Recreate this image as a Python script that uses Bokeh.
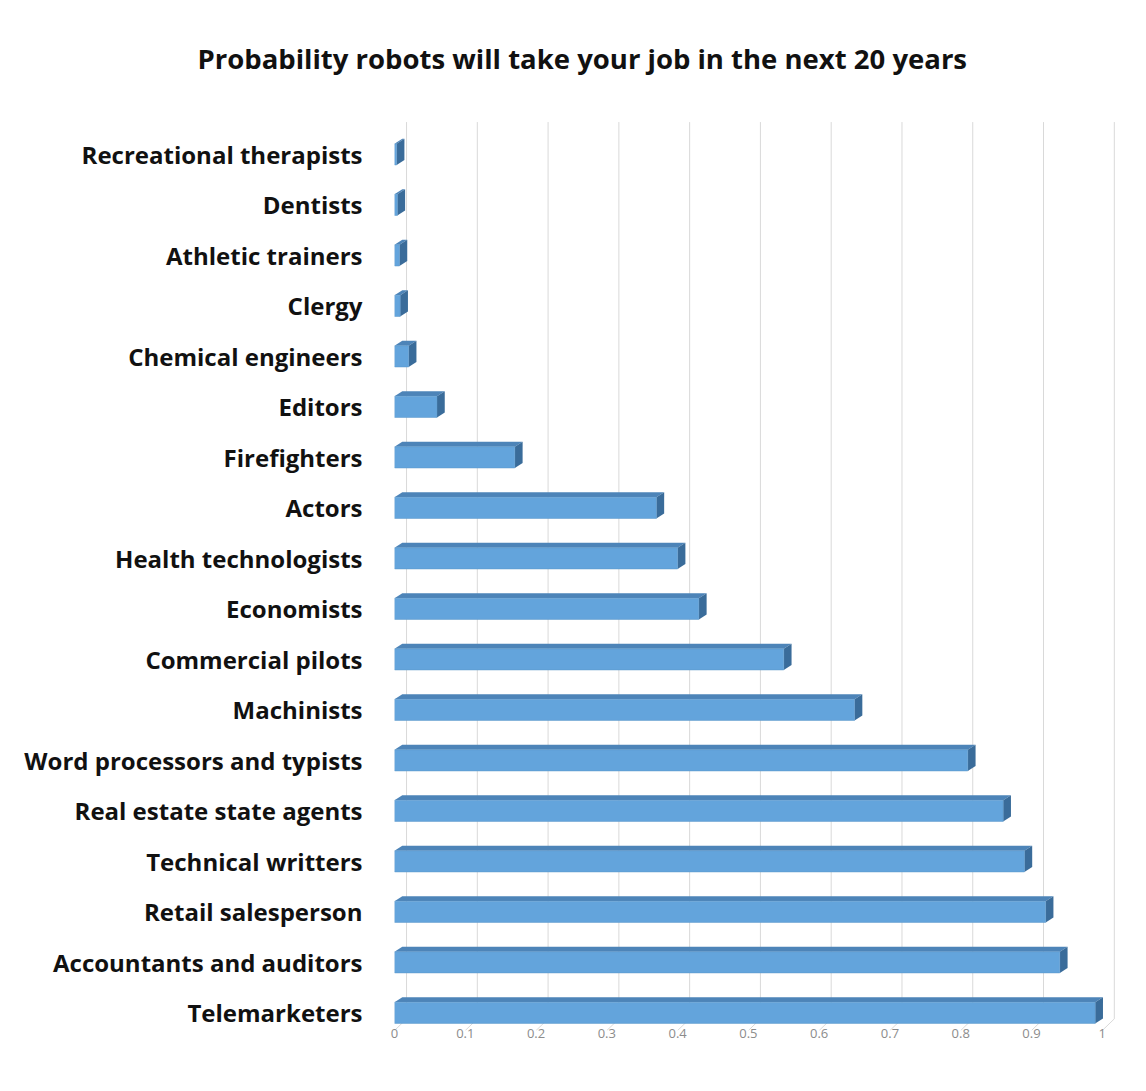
from bokeh.plotting import figure
from bokeh.models import FixedTicker, ColumnDataSource
from bokeh.embed import file_html
from bokeh.resources import INLINE

title_text = "Probability robots will take your job in the next 20 years"

# categories, top to bottom as shown
jobs = [
    "Recreational therapists", "Dentists", "Athletic trainers", "Clergy",
    "Chemical engineers", "Editors", "Firefighters", "Actors",
    "Health technologists", "Economists", "Commercial pilots", "Machinists",
    "Word processors and typists", "Real estate state agents",
    "Technical writters", "Retail salesperson", "Accountants and auditors",
    "Telemarketers",
]
probability = [0.003, 0.004, 0.007, 0.008, 0.02, 0.06, 0.17, 0.37, 0.40,
               0.43, 0.55, 0.65, 0.81, 0.86, 0.89, 0.92, 0.94, 0.99]

x_ticks = [0, 0.1, 0.2, 0.3, 0.4, 0.5, 0.6, 0.7, 0.8, 0.9, 1.0]
x_tick_labels = ["0", "0.1", "0.2", "0.3", "0.4", "0.5", "0.6", "0.7", "0.8", "0.9", "1"]

n = len(jobs)
ypos = [n - 1 - i for i in range(n)]

Y0, Y1 = -0.35, 17.79
H = 0.42    # front face height (category units)
DX = 0.011  # depth offset in x (value units)
DY = 0.10   # depth offset in y (category units)
GDX = 0.017 # back-wall offset of gridlines

top_xs, top_ys, side_xs, side_ys = [], [], [], []
for v, y in zip(probability, ypos):
    t, b = y + H / 2, y - H / 2
    top_xs.append([0, v, v + DX, DX])
    top_ys.append([t, t, t + DY, t + DY])
    side_xs.append([v, v + DX, v + DX, v])
    side_ys.append([b, b + DY, t + DY, t])

grid_xs = [[t + GDX, t + GDX, t] for t in x_ticks]
grid_ys = [[Y1 - 0.15, -0.12, Y0] for t in x_ticks]

src = ColumnDataSource(dict(y=ypos, v=probability))

p = figure(width=1138, height=1083, output_backend="svg", toolbar_location=None,
           x_range=(0, 1.03), y_range=(Y0, Y1),
           min_border_left=394, min_border_right=15,
           min_border_top=112, min_border_bottom=53)

p.title.text = title_text
p.title.text_font = "Open Sans"
p.title.text_font_size = "27.5px"
p.title.text_font_style = "bold"
p.title.text_color = "#111111"
p.title.align = "left"
p.title.offset = -197
p.title.standoff = 75

p.multi_line(grid_xs, grid_ys, line_color="#d9d9d9", line_width=1)

p.patches(top_xs, top_ys, fill_color="#4D84B8", line_color=None)
p.patches(side_xs, side_ys, fill_color="#3A6C9A", line_color=None)
p.hbar(y="y", left=0, right="v", height=H, source=src,
       fill_color="#63A4DC", line_color="#5B96C9", line_width=0.5)

p.xaxis.ticker = FixedTicker(ticks=x_ticks)
p.xaxis.major_label_overrides = {t: l for t, l in zip(x_ticks, x_tick_labels)}
p.xaxis.major_label_text_font = "Open Sans"
p.xaxis.major_label_text_font_size = "13px"
p.xaxis.major_label_text_color = "#8c8c8c"
p.xaxis.major_tick_line_color = None
p.xaxis.minor_tick_line_color = None
p.xaxis.axis_line_color = None
p.xaxis.major_label_standoff = -8

p.yaxis.ticker = FixedTicker(ticks=ypos)
p.yaxis.major_label_overrides = {y: j for y, j in zip(ypos, jobs)}
p.yaxis.major_label_text_font = "Open Sans"
p.yaxis.major_label_text_font_size = "24px"
p.yaxis.major_label_text_font_style = "bold"
p.yaxis.major_label_text_color = "#111111"
p.yaxis.major_tick_line_color = None
p.yaxis.minor_tick_line_color = None
p.yaxis.axis_line_color = None
p.yaxis.major_label_standoff = 26

p.xgrid.grid_line_color = None
p.ygrid.grid_line_color = None
p.outline_line_color = None
p.background_fill_color = "white"
p.border_fill_color = "white"

open("out.html", "w").write(file_html(p, INLINE))
